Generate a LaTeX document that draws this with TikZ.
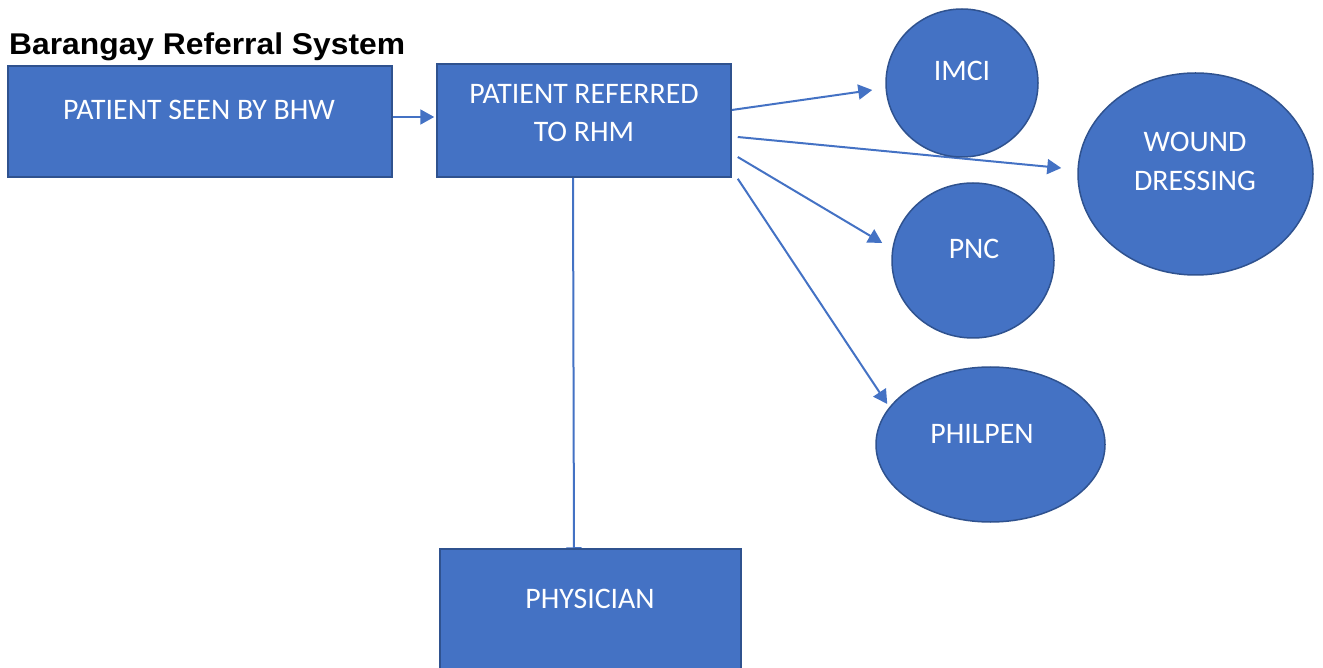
\documentclass[tikz,border=0pt]{standalone}
\usepackage{fontspec}
\setmainfont{Carlito}
\newfontfamily\titlefont[FakeStretch=1.06]{Liberation Sans}
\usetikzlibrary{shapes.geometric,arrows.meta,backgrounds}
\definecolor{accent}{HTML}{4472C4}
\definecolor{accentdark}{HTML}{2F528F}
\begin{document}
\begin{tikzpicture}[x=1pt,y=-1pt,
  shapebox/.style={draw=accentdark,line width=1.5pt,fill=accent,rectangle,inner sep=0pt},
  blob/.style={draw=accentdark,line width=1.5pt,fill=accent,ellipse,inner sep=0pt},
  lbl/.style={text=white,font=\fontsize{29.8}{36}\selectfont,anchor=base,inner sep=0pt},
  arr/.style={draw=accent,line width=2pt,-{Triangle[length=14pt,width=15pt]}}]
\useasboundingbox (0,0) rectangle (1323,668);

% title
\node[anchor=base west,inner sep=0pt,font=\titlefont\bfseries\fontsize{30}{36}\selectfont] (title) at (9,55) {Barangay Referral System};

% boxes
\node[shapebox,minimum width=384pt,minimum height=111pt] (bhw) at (200,121.5) {};
\node[shapebox,minimum width=294pt,minimum height=113pt] (rhm) at (584,120.5) {};
\node[shapebox,minimum width=301pt,minimum height=126pt] (phys) at (590.5,612) {};

% services
\node[blob,minimum width=152pt,minimum height=148pt] (imci) at (962,83) {};
\node[blob,minimum width=235pt,minimum height=202pt] (wound) at (1195.5,174) {};
\node[blob,minimum width=162pt,minimum height=155pt] (pnc) at (973,260.5) {};
\node[blob,minimum width=229pt,minimum height=155pt] (philpen) at (990.5,444.5) {};

% labels
\node[lbl] (tbhw) at (199,120) {PATIENT SEEN BY BHW};
\node[lbl] (trhm1) at (584,104) {PATIENT REFERRED};
\node[lbl] (trhm2) at (584,142) {TO RHM};
\node[lbl] (tphys) at (590,608) {PHYSICIAN};
\node[lbl] (timci) at (962,81) {IMCI};
\node[lbl] (twound1) at (1195,152) {WOUND};
\node[lbl] (twound2) at (1195,191) {DRESSING};
\node[lbl] (tpnc) at (974,259) {PNC};
\node[lbl] (tphilpen) at (982,443) {PHILPEN};

% connectors
\begin{scope}[on background layer]
\draw[arr] ([shift={(0,-4.5)}]bhw.east) -- ([shift={(-2,-3.5)}]rhm.west);
\draw[arr] ([shift={(0,-10.5)}]rhm.east) -- ([shift={(-13,7)}]imci.west);
\draw[arr] ([shift={(6,16.5)}]rhm.east) -- ([shift={(-16,-6)}]wound.west);
\draw[arr] ([shift={(6,36.5)}]rhm.east) -- ([shift={(-9,-17.5)}]pnc.west);
\draw[arr] ([shift={(6,1)}]rhm.south east) -- ([shift={(12,-40.5)}]philpen.west);
\draw[arr] ([shift={(-11,0)}]rhm.south) -- ([shift={(-16.5,13)}]phys.north);
\end{scope}
\end{tikzpicture}
\end{document}
